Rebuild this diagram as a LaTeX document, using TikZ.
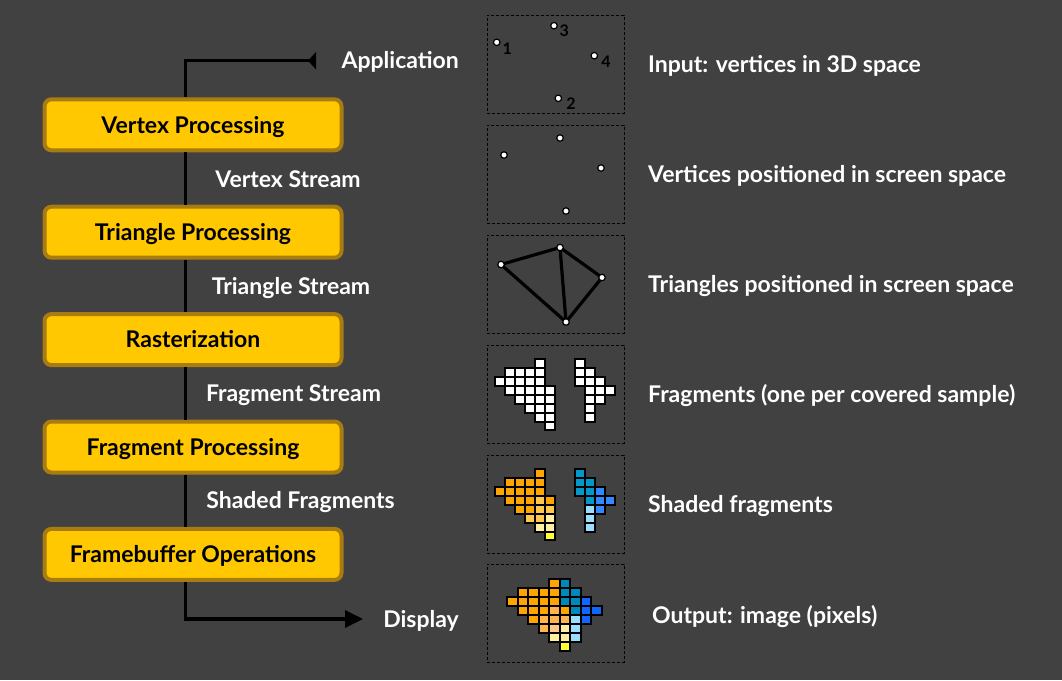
\documentclass[tikz,border=0pt]{standalone}
\usepackage{fontspec}
\setmainfont{Lato}
\usetikzlibrary{arrows.meta}

\definecolor{bg}{RGB}{65,65,65}
\definecolor{stagefill}{RGB}{255,200,0}
\definecolor{stageborder}{RGB}{168,124,16}
% fragment colours
\definecolor{fw}{RGB}{255,255,255}
\definecolor{fo}{RGB}{255,165,0}
\definecolor{fl}{RGB}{255,200,74}
\definecolor{fk}{RGB}{255,200,140}
\definecolor{fp}{RGB}{255,240,160}
\definecolor{fy}{RGB}{255,255,51}
\definecolor{ft}{RGB}{0,153,204}
\definecolor{fb}{RGB}{51,136,255}
\definecolor{fc}{RGB}{153,221,255}
\definecolor{gt}{RGB}{0,136,187}
\definecolor{gb}{RGB}{17,102,255}
\definecolor{gl}{RGB}{255,180,80}

\newcommand\fragcells[3]{%
  \foreach \cx/\ry/\kk in {#3} {
    \draw[cell, fill=\kk] ({\cx*#1-#1/2},{\ry*#2-#2/2}) rectangle ++(#1,#2);
  }}

\begin{document}
\begin{tikzpicture}[x=1pt,y=-1pt,
  font=\bfseries\fontsize{23}{26}\selectfont,
  txt/.style={text height=19pt, text depth=2.5pt},
  stage/.style={txt, draw=stageborder, line width=4pt, fill=stagefill,
    rounded corners=7pt, minimum width=297pt, minimum height=51pt,
    inner sep=0pt, text=black},
  flowlabel/.style={txt, text=white, inner sep=0pt},
  desc/.style={txt, text=white, inner sep=0pt, anchor=west},
  panel/.style={draw=black, line width=1pt, dash pattern=on 3pt off 2pt,
    minimum width=137pt, minimum height=98pt, inner sep=0pt},
  vtx/.style={circle, draw=black, fill=white, line width=1.2pt,
    inner sep=0pt, minimum size=6.5pt},
  vlabel/.style={text=black, inner sep=0pt, font=\bfseries\fontsize{16}{18}\selectfont},
  triedge/.style={line width=3.2pt, black},
  pipe/.style={line width=3.4pt, black},
  cell/.style={draw=black, line width=2pt}
]
\fill[bg] (0,0) rectangle (1062,680);
\useasboundingbox (0,0) rectangle (1062,680);

% ---------------- pipeline ----------------
\coordinate (appin) at (316,60.7);
\coordinate (spine) at (185.5,60.7);
\coordinate (dispin) at (363,619);

\node[flowlabel, anchor=east] (app) at (459,60.7) {Application};
\node[flowlabel, anchor=east] (disp) at (459,619) {Display};

\node[stage] (vp) at (193,124.8) {Vertex Processing};
\node[stage] (tp) at (193,232.2) {Triangle Processing};
\node[stage] (rs) at (193,339.6) {Rasterization};
\node[stage] (fp) at (193,447.0) {Fragment Processing};
\node[stage] (fo) at (193,554.4) {Framebuffer Operations};

\draw[pipe, {Triangle[reversed, length=8pt, width=17pt]}-] (appin) -- (spine) -- (spine |- vp.north);
\draw[pipe] (vp.south -| spine) -- (tp.north -| spine);
\draw[pipe] (tp.south -| spine) -- (rs.north -| spine);
\draw[pipe] (rs.south -| spine) -- (fp.north -| spine);
\draw[pipe] (fp.south -| spine) -- (fo.north -| spine);
\draw[pipe, -{Triangle[length=18pt, width=17pt]}] (fo.south -| spine) |- (dispin);

\node[flowlabel] (s1) at (288,179) {Vertex Stream};
\node[flowlabel] (s2) at (291,286) {Triangle Stream};
\node[flowlabel] (s3) at (293.5,393) {Fragment Stream};
\node[flowlabel] (s4) at (300.5,500) {Shaded Fragments};

% ---------------- panels ----------------
\node[panel] (p1) at (555.5,64) {};
\node[panel] (p2) at (555.5,174) {};
\node[panel] (p3) at (555.5,284) {};
\node[panel] (p4) at (555.5,394) {};
\node[panel] (p5) at (555.5,504) {};
\node[panel] (p6) at (555.5,613) {};

\node[desc] (d1) at (648,64) {Input: vertices in 3D space};
\node[desc] (d2) at (648,174) {Vertices positioned in screen space};
\node[desc] (d3) at (648,284) {Triangles positioned in screen space};
\node[desc] (d4) at (648,394) {Fragments (one per covered sample)};
\node[desc] (d5) at (648,504) {Shaded fragments};
\node[desc] (d6) at (652,615) {Output: image (pixels)};

% input vertices
\node[vtx] (a1) at (496.7,42.3) {};
\node[vtx] (a3) at (554,25.7) {};
\node[vtx] (a4) at (594.3,55.7) {};
\node[vtx] (a2) at (558.3,98.3) {};
\node[vlabel] at (507.3,49) {1};
\node[vlabel] at (564.3,30.7) {3};
\node[vlabel] at (606,61.7) {4};
\node[vlabel] at (571,103.3) {2};

% screen-space vertices
\node[vtx] (b1) at (504,155) {};
\node[vtx] (b3) at (560,138) {};
\node[vtx] (b4) at (601,168) {};
\node[vtx] (b2) at (566,211) {};

% triangles
\coordinate (c1) at (501,264.5);
\coordinate (c3) at (560,247.5);
\coordinate (c4) at (602,277.5);
\coordinate (c2) at (566,322);
\draw[triedge, line join=round] (c1) -- (c3) -- (c4) -- (c2) -- cycle;
\draw[triedge] (c3) -- (c2);
\foreach \v in {c1,c2,c3,c4} \node[vtx] (n\v) at (\v) {};

% fragments
\begin{scope}[shift={(500,363.7)}]
\fragcells{10}{8.9}{4/0/fw,
 1/1/fw,2/1/fw,3/1/fw,4/1/fw,
 0/2/fw,1/2/fw,2/2/fw,3/2/fw,4/2/fw,
 1/3/fw,2/3/fw,3/3/fw,4/3/fw,5/3/fw,
 2/4/fw,3/4/fw,4/4/fw,5/4/fw,
 3/5/fw,4/5/fw,5/5/fw,
 4/6/fw,5/6/fw,
 5/7/fw,
 8/0/fw,
 8/1/fw,9/1/fw,
 8/2/fw,9/2/fw,10/2/fw,
 9/3/fw,10/3/fw,11/3/fw,
 9/4/fw,10/4/fw,
 9/5/fw,
 9/6/fw}
\end{scope}

% shaded fragments
\begin{scope}[shift={(500,473.7)}]
\fragcells{10}{8.9}{4/0/fo,
 1/1/fo,2/1/fo,3/1/fo,4/1/fo,
 0/2/fo,1/2/fo,2/2/fo,3/2/fo,4/2/fo,
 1/3/fo,2/3/fo,3/3/fo,4/3/fl,5/3/fo,
 2/4/fo,3/4/fo,4/4/fl,5/4/fl,
 3/5/fl,4/5/fl,5/5/fp,
 4/6/fp,5/6/fp,
 5/7/fy,
 8/0/ft,
 8/1/ft,9/1/ft,
 8/2/ft,9/2/ft,10/2/fb,
 9/3/ft,10/3/fb,11/3/fb,
 9/4/fc,10/4/fb,
 9/5/fc,
 9/6/fc}
\end{scope}

% output image
\begin{scope}[shift={(512.7,583.7)}]
\fragcells{10.5}{9}{4/0/fo,5/0/gt,
 1/1/fo,2/1/fo,3/1/fo,4/1/fo,5/1/gt,6/1/gt,
 0/2/fo,1/2/fo,2/2/fo,3/2/fo,4/2/fo,5/2/gt,6/2/gt,7/2/gb,
 1/3/fo,2/3/fo,3/3/fo,4/3/gl,5/3/fo,6/3/gt,7/3/gb,8/3/gb,
 2/4/fo,3/4/gl,4/4/gl,5/4/gl,6/4/fc,7/4/gb,
 3/5/gl,4/5/fk,5/5/fp,6/5/fc,
 4/6/fp,5/6/fp,6/6/fc,
 5/7/fy}
\end{scope}
\end{tikzpicture}
\end{document}
